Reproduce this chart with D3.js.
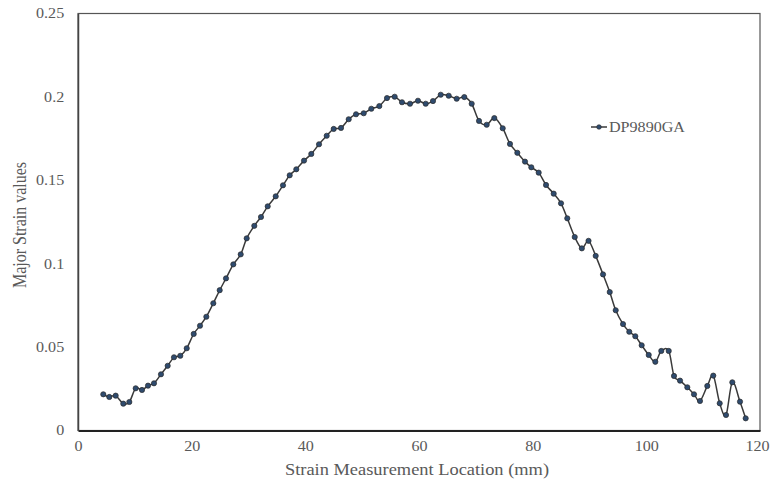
<!DOCTYPE html>
<html>
<head>
<meta charset="utf-8">
<script src="https://cdn.jsdelivr.net/npm/d3@7"></script>
<style>
  html, body { margin: 0; padding: 0; background: #fff; overflow: hidden; }
  svg { display: block; }
  svg text { font-family: "Liberation Serif", "Times New Roman", serif; fill: #595959; }
</style>
</head>
<body>
<svg></svg>
<script>
// measurement positions along the section (mm)
const locations = [
  4.45, 5.51, 6.63, 7.97, 9.03, 10.15, 11.26, 12.32, 13.37, 14.60,
  15.78, 16.89, 18.00, 19.13, 20.36, 21.47, 22.58, 23.81, 24.93, 26.04,
  27.33, 28.63, 29.68, 31.02, 32.20, 33.38, 34.79, 36.07, 37.25, 38.41,
  39.77, 41.05, 42.41, 43.76, 44.99, 46.28, 47.63, 48.92, 50.27, 51.61,
  53.02, 54.37, 55.72, 57.01, 58.42, 59.82, 61.18, 62.46, 63.82, 65.23,
  66.63, 67.97, 69.27, 70.56, 71.91, 73.25, 74.73, 76.01, 77.30, 78.65,
  79.76, 81.06, 82.35, 83.70, 84.99, 86.09, 87.40, 88.65, 89.83, 91.09,
  92.38, 93.56, 94.61, 95.90, 97.00, 98.06, 99.18, 100.42, 101.58, 102.63,
  103.94, 104.87, 105.93, 107.21, 108.39, 109.44, 110.73, 111.78, 112.91, 114.02,
  115.13, 116.48, 117.48
];

// major strain for DP9890GA
const majorStrain = [
  0.0217, 0.0201, 0.0209, 0.0161, 0.0171, 0.0253, 0.0243, 0.0269, 0.0283, 0.0337,
  0.0388, 0.0439, 0.0448, 0.0493, 0.0579, 0.0628, 0.0682, 0.0763, 0.0841, 0.0912,
  0.0996, 0.1056, 0.1152, 0.1227, 0.1280, 0.1344, 0.1404, 0.1470, 0.1530, 0.1566,
  0.1618, 0.1658, 0.1716, 0.1767, 0.1808, 0.1814, 0.1866, 0.1896, 0.1902, 0.1929,
  0.1945, 0.1993, 0.2001, 0.1968, 0.1959, 0.1977, 0.1959, 0.1975, 0.2013, 0.2007,
  0.1989, 0.1999, 0.1959, 0.1856, 0.1833, 0.1873, 0.1812, 0.1718, 0.1665, 0.1612,
  0.1578, 0.1546, 0.1472, 0.1420, 0.1362, 0.1272, 0.1160, 0.1092, 0.1137, 0.1047,
  0.0936, 0.0830, 0.0721, 0.0638, 0.0592, 0.0565, 0.0511, 0.0453, 0.0412, 0.0477,
  0.0477, 0.0327, 0.0299, 0.0259, 0.0217, 0.0177, 0.0267, 0.0329, 0.0163, 0.0093,
  0.0289, 0.0173, 0.0073
];

const xTicks = [0, 20, 40, 60, 80, 100, 120];
const yTicks = [0, 0.05, 0.1, 0.15, 0.2, 0.25];
const seriesName = 'DP9890GA';

const width = 771, height = 481;
const margin = { top: 13.5, right: 11, bottom: 50.5, left: 78 };
const innerWidth = width - margin.left - margin.right;
const innerHeight = height - margin.top - margin.bottom;
// text is set slightly wide
const stretch = 1.15;

const svg = d3.select('svg')
  .attr('width', width)
  .attr('height', height);

const g = svg.append('g')
  .attr('transform', `translate(${margin.left}, ${margin.top})`);

const xScale = d3.scaleLinear().domain([0, 120]).range([0, innerWidth]);
const yScale = d3.scaleLinear().domain([0, 0.25]).range([innerHeight, 0]);

// plot frame
g.append('rect')
  .attr('width', innerWidth)
  .attr('height', innerHeight)
  .attr('fill', 'none')
  .attr('stroke', '#555')
  .attr('stroke-width', 1.2);

// axes without tick marks, labels only
const xAxis = d3.axisBottom(xScale).tickValues(xTicks).tickSize(0).tickPadding(11).tickFormat(d3.format('d'));
const yAxis = d3.axisLeft(yScale).tickValues(yTicks).tickSize(0).tickPadding(12).tickFormat(d => d === 0 ? '0' : String(+d.toFixed(2)));

const gx = g.append('g')
  .attr('transform', `translate(0, ${innerHeight})`)
  .call(xAxis);
gx.select('.domain').attr('stroke', '#222').attr('stroke-width', 2);
gx.selectAll('text')
  .style('font-size', '14px')
  .attr('transform', d => `translate(${d === 120 ? -3 : 0},0) scale(${stretch},1)`);

const gy = g.append('g').call(yAxis);
gy.select('.domain').attr('stroke', '#444').attr('stroke-width', 1.5);
gy.selectAll('text')
  .style('font-size', '14px')
  .attr('transform', `scale(${stretch},1)`);

// axis titles
svg.append('text')
  .attr('transform', `translate(${margin.left + innerWidth / 2 - 2}, 475) scale(${stretch},1)`)
  .attr('text-anchor', 'middle')
  .style('font-size', '16px')
  .text('Strain Measurement Location (mm)');

svg.append('text')
  .attr('transform', `translate(26, ${margin.top + innerHeight / 2 + 3}) scale(${stretch},1) rotate(-90)`)
  .attr('text-anchor', 'middle')
  .style('font-size', '16px')
  .text('Major Strain values');

const points = locations.map((x, i) => ({ x, y: majorStrain[i] }));

const line = d3.line()
  .x(d => xScale(d.x))
  .y(d => yScale(d.y))
  .curve(d3.curveCatmullRom.alpha(0));

g.append('path')
  .datum(points)
  .attr('fill', 'none')
  .attr('stroke', '#3a3a3a')
  .attr('stroke-width', 1.5)
  .attr('d', line);

g.selectAll('circle.pt')
  .data(points)
  .join('circle')
  .attr('class', 'pt')
  .attr('cx', d => xScale(d.x))
  .attr('cy', d => yScale(d.y))
  .attr('r', 2.6)
  .attr('fill', '#2f4b6e')
  .attr('stroke', '#2a2a2a')
  .attr('stroke-width', 0.7);

// legend
const legend = svg.append('g').attr('transform', 'translate(591, 127)');
legend.append('line')
  .attr('x1', 0).attr('x2', 16)
  .attr('stroke', '#3a3a3a').attr('stroke-width', 1.5);
legend.append('circle')
  .attr('cx', 8).attr('r', 2.3)
  .attr('fill', '#2f4b6e').attr('stroke', '#2a2a2a').attr('stroke-width', 0.6);
legend.append('text')
  .attr('transform', `translate(18, 5) scale(${stretch},1)`)
  .style('font-size', '14px')
  .text(seriesName);
</script>
</body>
</html>
